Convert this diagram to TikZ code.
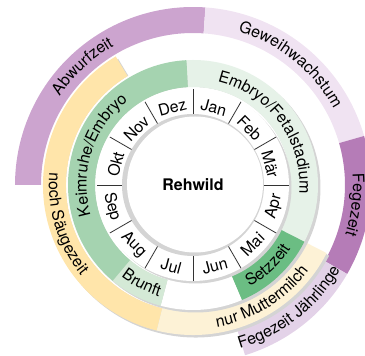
\documentclass[tikz,border=0pt]{standalone}
\usepackage{fontspec}
\setmainfont{TeX Gyre Heros}
\usetikzlibrary{decorations.text}

\definecolor{abwurf}{RGB}{204,164,207}
\definecolor{geweih}{RGB}{240,227,242}
\definecolor{fege}{RGB}{181,124,183}
\definecolor{fegejung}{RGB}{227,210,232}
\definecolor{saeuge}{RGB}{255,229,170}
\definecolor{milch}{RGB}{253,242,214}
\definecolor{keimruhe}{RGB}{165,211,176}
\definecolor{fetal}{RGB}{230,242,232}
\definecolor{brunft}{RGB}{212,233,214}
\definecolor{setz}{RGB}{107,189,131}
\definecolor{schatten}{RGB}{212,212,212}

\tikzset{
  shadow/.style = {fill = schatten, shift = {(2.5,-2.5)}},
  monthline/.style = {draw = black!80, line width = 0.8},
  ringtext/.style = {decorate, decoration = {text along path, text align = center, text = {#1}}}
}

\newcommand{\ringseg}[5]{\fill[#1] (#4:#3) arc[start angle = #4, end angle = #5, radius = #3] -- (#5:#2) arc[start angle = #5, end angle = #4, radius = #2] -- cycle;}
\newcommand{\ringlabel}[4]{\path[ringtext = {#4}] (#2:#1) arc[start angle = #2, end angle = #3, radius = #1];}

\begin{document}
\begin{tikzpicture}[x = 1pt, y = 1pt]
\fontsize{16}{19}\selectfont
\useasboundingbox (-193,-171) rectangle (172,185);

\ringseg{abwurf}{152}{178}{180}{86}
\ringseg{geweih}{152}{178}{86}{16}
\ringseg{fege}{152}{178}{16}{-30}
\ringseg{fegejung}{152}{178}{-30}{-73}

\fill[shadow] (0,0) -- (121:150) arc[start angle = 121, end angle = 333, radius = 150] -- cycle;
\fill[white] (0,0) circle[radius = 127];
\ringseg{saeuge}{127}{150}{121}{256}
\ringseg{milch}{127}{150}{256}{333}

\fill[shadow] (0,0) circle[radius = 125];
\fill[white] (0,0) circle[radius = 98];
\ringseg{fetal}{98}{125}{93}{-27}
\ringseg{setz}{98}{125}{-27}{-67}
\ringseg{white}{98}{125}{-67}{-105}
\ringseg{brunft}{98}{125}{-105}{-130}
\ringseg{keimruhe}{98}{125}{230}{93}

\fill[shadow] (0,0) circle[radius = 96];
\fill[white] (0,0) circle[radius = 96];
\fill[schatten] (0,0) circle[radius = 71];
\fill[white] (2,0.5) circle[radius = 68];

\foreach \a in {0, 30, ..., 330}
  \draw[monthline] (\a:71) -- (\a:96);

\foreach \a/\m [count = \i] in {75/Jan, 45/Feb, 15/Mär, -15/Apr, -45/Mai, -75/Jun, -105/Jul, -135/Aug, -165/Sep, 165/Okt, 135/Nov, 105/Dez} {
  \pgfmathsetmacro{\rot}{\a > 0 ? \a - 90 : \a + 90}
  \pgfmathsetmacro{\rad}{\a > 0 ? 80 : 84}
  \node[rotate = \rot, inner sep = 0] (mon\i) at (\a:\rad) {\m};
}

\node[font = \bfseries] (rehwild) at (0,0) {Rehwild};

\ringlabel{160}{180}{86}{Abwurfzeit}
\ringlabel{160}{86}{16}{Geweihwachstum}
\ringlabel{160}{16}{-30}{Fegezeit}
\ringlabel{170}{-82}{-22}{Fegezeit Jährlinge}
\ringlabel{144}{167}{227}{noch Säugezeit}
\ringlabel{144}{-88.5}{-28.5}{nur Muttermilch}
\ringlabel{106.5}{210}{114}{Keimruhe/Embryo}
\ringlabel{106.5}{86}{-14}{Embryo/Fetalstadium}
\ringlabel{116.5}{-77}{-17}{Setzzeit}
\ringlabel{116.5}{-147}{-88}{Brunft}
\end{tikzpicture}
\end{document}
